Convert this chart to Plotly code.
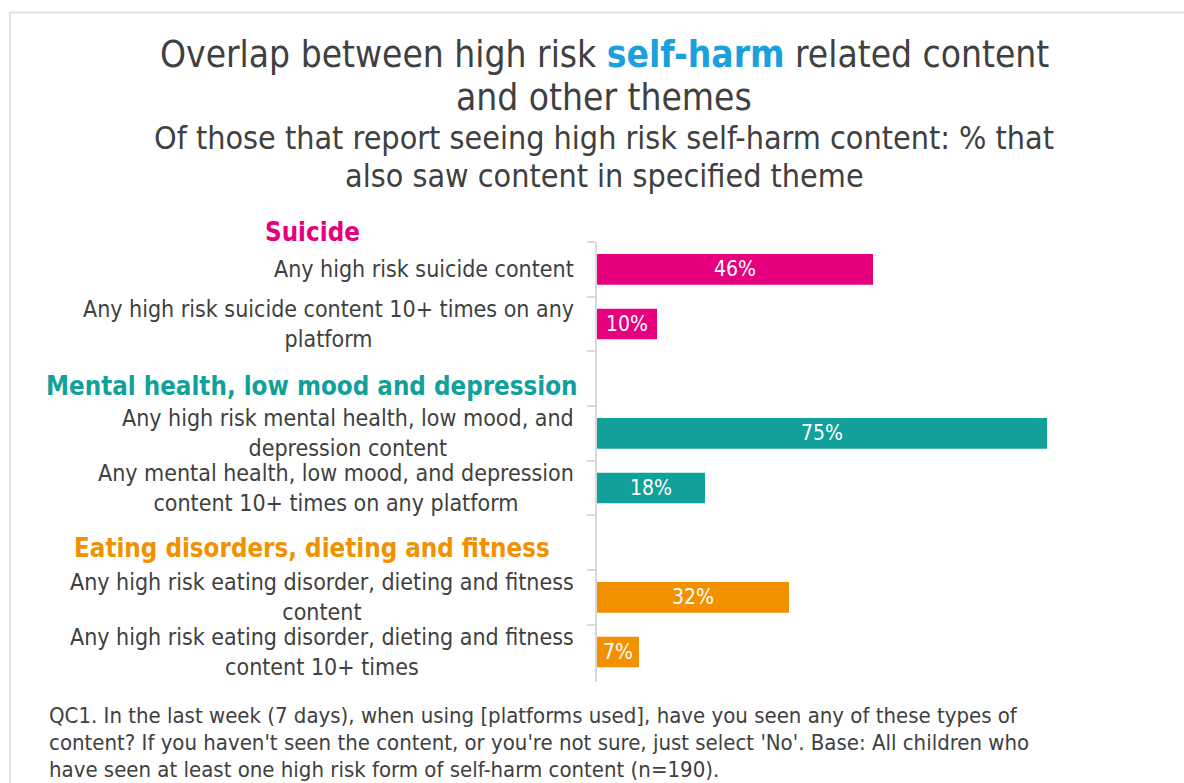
import plotly.graph_objects as go

# Data
categories = [
    "Any high risk suicide content",
    "Any high risk suicide content 10+ times on any<br>platform",
    " ",
    "Any high risk mental health, low mood, and<br>depression content",
    "Any mental health, low mood, and depression<br>content 10+ times on any platform",
    "  ",
    "Any high risk eating disorder, dieting and fitness<br>content",
    "Any high risk eating disorder, dieting and fitness<br>content 10+ times",
]
bar_categories = [categories[0], categories[1], categories[3], categories[4], categories[6], categories[7]]
values = [46, 10, 75, 18, 32, 7]
themes = ["Suicide", "Suicide", "Mental health", "Mental health", "Eating", "Eating"]

theme_colors = {"Suicide": "#E6007E", "Mental health": "#12A19A", "Eating": "#F29100"}
headers = [
    ("Suicide", "#E6007E", 232),
    ("Mental health, low mood and depression", "#12A19A", 386),
    ("Eating disorders, dieting and fitness", "#F29100", 548),
]
title_lines = [
    ("Overlap between high risk <b><span style='color:#1AA0DC'>self-harm</span></b> related content", 55),
    ("and other themes", 98),
]
subtitle_lines = [
    ("Of those that report seeing high risk self-harm content: % that", 138),
    ("also saw content in specified theme", 176),
]
footnote_lines = [
    ("QC1. In the last week (7 days), when using [platforms used], have you seen any of these types of", 715),
    ("content? If you haven't seen the content, or you're not sure, just select 'No'. Base: All children who", 742),
    ("have seen at least one high risk form of self-harm content (n=190).", 769),
]

W, H = 1184, 783
L, R, T, B = 597, 1077, 242, 682
XMAX = 80
FONT = "DejaVu Sans Condensed, DejaVu Sans"
TEXT = "#404040"


def px(x):
    return (x - L) / (R - L)


def py(y):
    return (B - y) / (B - T)


fig = go.Figure()
fig.add_trace(go.Bar(
    x=values,
    y=bar_categories,
    orientation="h",
    marker=dict(color=[theme_colors[t] for t in themes], line=dict(width=0)),
    width=0.56,
    hoverinfo="skip",
))

annotations = []
# value labels inside bars
for v, c in zip(values, bar_categories):
    annotations.append(dict(
        x=v / 2, y=c, xref="x", yref="y", text=f"{v}%", showarrow=False,
        font=dict(family=FONT, size=21, color="white"), xanchor="center", yanchor="middle",
    ))
# category labels
for c in categories:
    if c.strip():
        annotations.append(dict(
            x=0, y=c, xref="x", yref="y", text=c, showarrow=False, align="center",
            xanchor="right", yanchor="middle", xshift=-21,
            font=dict(family=FONT, size=23, color=TEXT),
        ))
# theme headers
for text, color, ypix in headers:
    annotations.append(dict(
        x=px(312), y=py(ypix), xref="paper", yref="paper", text=f"<b>{text}</b>",
        showarrow=False, xanchor="center", yanchor="middle",
        font=dict(family=FONT, size=25.7, color=color),
    ))
# titles
for text, ypix in title_lines:
    annotations.append(dict(
        x=px(604), y=py(ypix), xref="paper", yref="paper", showarrow=False, text=text,
        xanchor="center", yanchor="middle", font=dict(family=FONT, size=36.8, color=TEXT),
    ))
for text, ypix in subtitle_lines:
    annotations.append(dict(
        x=px(604), y=py(ypix), xref="paper", yref="paper", showarrow=False, text=text,
        xanchor="center", yanchor="middle", font=dict(family=FONT, size=32, color=TEXT),
    ))
# footnote
for text, ypix in footnote_lines:
    annotations.append(dict(
        x=px(47), y=py(ypix), xref="paper", yref="paper", showarrow=False, text=text,
        xanchor="left", yanchor="middle", font=dict(family=FONT, size=22, color=TEXT),
    ))

fig.update_layout(
    width=W, height=H,
    margin=dict(l=L, r=W - R, t=T, b=H - B),
    paper_bgcolor="white", plot_bgcolor="white",
    showlegend=False,
    annotations=annotations,
    shapes=[dict(type="rect", xref="paper", yref="paper",
                 x0=px(10), x1=px(1200), y0=py(800), y1=py(12.5),
                 line=dict(color="#E2E2E2", width=2), fillcolor="rgba(0,0,0,0)", layer="below")],
    xaxis=dict(range=[0, XMAX], showgrid=False, zeroline=False, showticklabels=False,
               showline=False, ticks="", fixedrange=True),
    yaxis=dict(categoryorder="array", categoryarray=categories, type="category",
               autorange="reversed", showgrid=False, zeroline=False, showticklabels=False,
               showline=True, linecolor="#D9D9D9", linewidth=2,
               ticks="outside", tickson="boundaries", ticklen=8, tickcolor="#D9D9D9", tickwidth=2,
               fixedrange=True),
)

fig.write_html("out.html")
